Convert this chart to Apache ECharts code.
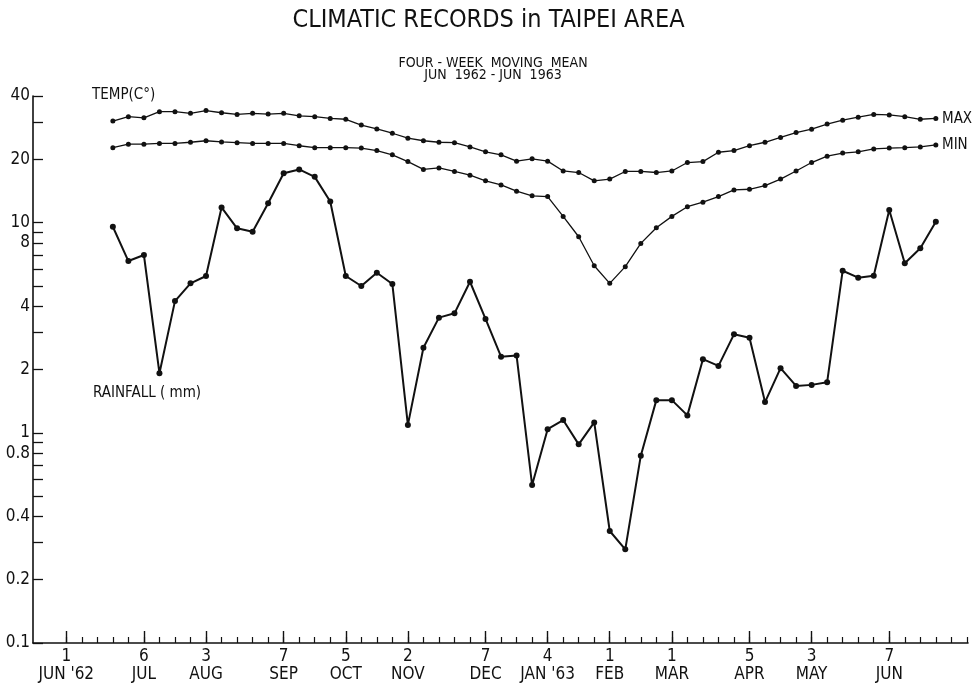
<!DOCTYPE html>
<html><head><meta charset="utf-8">
<script src="https://cdn.jsdelivr.net/npm/echarts@6/dist/echarts.min.js"></script>
<style>html,body{margin:0;padding:0;background:#fff}#c{width:977px;height:687px}</style>
</head><body><div id="c"></div>
<script>
const FONT = "'Liberation Sans Narrow','DejaVu Sans Condensed','Arial Narrow',sans-serif";

// first weekly point of the four-week moving mean
const firstWeek = '1962-06-22';

const maxTemp = [30.4,31.9,31.5,33.7,33.7,33.1,34.1,33.3,32.7,33.1,32.8,33.1,32.2,31.9,31.3,31.0,29.1,27.9,26.6,25.2,24.5,24.1,24.0,22.9,21.7,21.0,19.6,20.1,19.6,17.6,17.3,15.8,16.1,17.5,17.5,17.3,17.6,19.3,19.5,21.6,22.0,23.2,24.1,25.4,26.8,27.8,29.4,30.7,31.7,32.7,32.5,31.9,31.0,31.3];

const minTemp = [22.7,23.6,23.6,23.8,23.8,24.1,24.5,24.2,24.0,23.8,23.8,23.8,23.2,22.7,22.7,22.7,22.6,22.0,21.0,19.5,17.9,18.2,17.5,16.8,15.8,15.1,14.1,13.4,13.3,10.7,8.56,6.23,5.14,6.17,7.96,9.45,10.7,11.9,12.5,13.3,14.3,14.4,15.0,16.1,17.6,19.3,20.7,21.4,21.7,22.4,22.6,22.7,22.9,23.4];

const rainfall = [9.55,6.56,7.01,1.92,4.23,5.14,5.57,11.8,9.39,9.04,12.35,17.15,17.9,16.5,12.6,5.57,4.99,5.77,5.10,1.09,2.54,3.53,3.70,5.23,3.48,2.30,2.33,0.564,1.04,1.15,0.881,1.12,0.341,0.279,0.778,1.43,1.43,1.21,2.24,2.08,2.94,2.83,1.40,2.03,1.67,1.69,1.74,5.90,5.47,5.59,11.47,6.40,7.54,10.1];

const yTickValues = [40,30,20,10,9,8,7,6,5,4,3,2,1,0.9,0.8,0.7,0.6,0.5,0.4,0.3,0.2,0.1];
const yLabelValues = [40,20,10,8,4,2,1,0.8,0.4,0.2,0.1];

const xMajorDates = ['1962-06-01','1962-07-06','1962-08-03','1962-09-07','1962-10-05','1962-11-02','1962-12-07','1963-01-04','1963-02-01','1963-03-01','1963-04-05','1963-05-03','1963-06-07'];
const xMajorLabels = ["1\nJUN '62","6\nJUL","3\nAUG","7\nSEP","5\nOCT","2\nNOV","7\nDEC","4\nJAN '63","1\nFEB","1\nMAR","5\nAPR","3\nMAY","7\nJUN"];
const xMinorFirst = '1962-06-01';
const xMinorLast = '1963-07-12';
const xAxisMin = '1962-05-17';
const xAxisMax = '1963-07-12T12:00:00';

const DAY = 86400000;
const ts = s => Date.parse(s + (s.length === 10 ? 'T00:00:00Z' : 'Z'));
const week0 = ts(firstWeek);
const weekTs = maxTemp.map((_, i) => week0 + i * 7 * DAY);
const majorTs = xMajorDates.map(ts);
const minorTs = [];
for (let t = ts(xMinorFirst); t <= ts(xMinorLast); t += 7 * DAY) minorTs.push(t);

const pairs = arr => arr.map((v, i) => [weekTs[i], v]);

const chart = echarts.init(document.getElementById('c'), null, {renderer: 'canvas'});
const black = '#111';
const xCommon = {
  type: 'value', min: ts(xAxisMin), max: ts(xAxisMax), splitLine: {show: false},
  position: 'bottom'
};
chart.setOption({
  animation: false,
  backgroundColor: '#fff',
  grid: {left: 33, right: 9, top: 96, bottom: 44, containLabel: false},
  xAxis: [
    Object.assign({}, xCommon, {
      axisLine: {show: true, lineStyle: {color: black, width: 1.6}},
      axisTick: {show: true, inside: true, length: 12, customValues: majorTs, lineStyle: {color: black, width: 1.4}},
      axisLabel: {show: true, customValues: majorTs, margin: 5, color: black, fontFamily: FONT, fontSize: 17, lineHeight: 18,
        formatter: v => { const k = majorTs.indexOf(v); return k >= 0 ? xMajorLabels[k] : ''; }}
    }),
    Object.assign({}, xCommon, {
      axisLine: {show: false},
      axisTick: {show: true, inside: true, length: 6, customValues: minorTs, lineStyle: {color: black, width: 1.2}},
      axisLabel: {show: false}
    })
  ],
  yAxis: {
    type: 'log', logBase: 10, min: 0.1, max: 40,
    splitLine: {show: false},
    axisLine: {show: true, lineStyle: {color: black, width: 1.6}},
    axisTick: {show: true, inside: true, length: 10, customValues: yTickValues, lineStyle: {color: black, width: 1.3}},
    axisLabel: {show: true, customValues: yLabelValues, margin: 3, color: black, fontFamily: FONT, fontSize: 17,
      formatter: v => String(Math.round(v * 10) / 10)}
  },
  series: [
    {name: 'MAX', type: 'line', data: pairs(maxTemp), symbol: 'circle', symbolSize: 5,
      lineStyle: {color: black, width: 1.3}, itemStyle: {color: black}},
    {name: 'MIN', type: 'line', data: pairs(minTemp), symbol: 'circle', symbolSize: 5,
      lineStyle: {color: black, width: 1.3}, itemStyle: {color: black}},
    {name: 'RAINFALL', type: 'line', data: pairs(rainfall), symbol: 'circle', symbolSize: 6,
      lineStyle: {color: black, width: 2}, itemStyle: {color: black}}
  ],
  graphic: [
    {type: 'text', left: 'center', top: 8, style: {text: 'CLIMATIC RECORDS in TAIPEI AREA', font: '25px ' + FONT, fill: black}},
    {type: 'text', x: 493, y: 57, style: {text: 'FOUR - WEEK  MOVING  MEAN\nJUN  1962 - JUN  1963', font: '14px ' + FONT, fill: black, align: 'center', lineHeight: 12}},
    {type: 'text', x: 92, y: 88, style: {text: 'TEMP(C°)', font: '15px ' + FONT, fill: black}},
    {type: 'text', x: 93, y: 386, style: {text: 'RAINFALL ( mm)', font: '15px ' + FONT, fill: black}},
    {type: 'text', x: 942, y: 112, style: {text: 'MAX', font: '15px ' + FONT, fill: black}},
    {type: 'text', x: 942, y: 138, style: {text: 'MIN', font: '15px ' + FONT, fill: black}}
  ]
});
</script></body></html>
